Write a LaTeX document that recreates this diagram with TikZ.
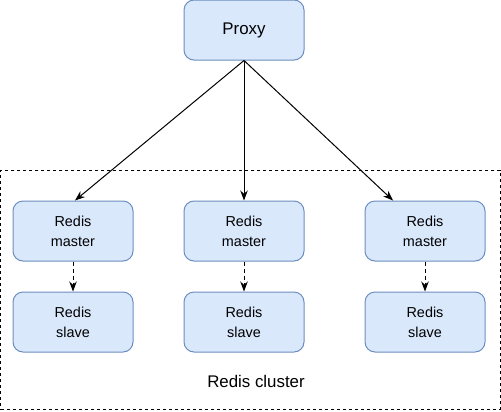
\documentclass[tikz,border=0pt]{standalone}
\usepackage{fontspec}
\setmainfont{Liberation Sans}
\usepackage{xcolor}
\usetikzlibrary{arrows.meta, positioning}
\definecolor{boxfill}{HTML}{DAE8FC}
\definecolor{boxline}{HTML}{6C8EBF}
\tikzset{
    proxybox/.style={rectangle, rounded corners=0.2cm, draw=boxline, fill=boxfill, line width=0.02cm, minimum width=2.4cm, minimum height=1.2cm, font=\fontsize{9.6}{11}\selectfont},
    redisbox/.style={rectangle, rounded corners=0.2cm, draw=boxline, fill=boxfill, line width=0.02cm, minimum width=2.4cm, minimum height=1.2cm, align=center, font=\fontsize{8.2}{11.3}\selectfont},
    clusterbox/.style={rectangle, draw, dash pattern=on 0.06cm off 0.06cm, line width=0.02cm, minimum width=9.98cm, minimum height=4.78cm},
    arrow/.style={-{Stealth[length=0.2cm, width=0.15cm]}, line width=0.02cm},
    dasharrow/.style={arrow, dash pattern=on 0.08cm off 0.06cm}
}
\begin{document}
\begin{tikzpicture}
            \useasboundingbox (0,0) rectangle (10.02,-8.22);
            \node (cluster) [clusterbox] at (5.01,-5.79) {};
            \node (clusterlabel) at (5.12,-7.62) [font=\fontsize{9.6}{11}\selectfont] {Redis cluster};
            \node (proxy) [proxybox] at (4.88,-0.6) {Proxy};
            \node (master2) [redisbox, below=2.8cm of proxy] {Redis\\master};
            \node (master1) [redisbox, left=1cm of master2] {Redis\\master};
            \node (master3) [redisbox, right=1.2cm of master2] {Redis\\master};
            \node (slave1) [redisbox, below=0.6cm of master1] {Redis\\slave};
            \node (slave2) [redisbox, below=0.6cm of master2] {Redis\\slave};
            \node (slave3) [redisbox, below=0.6cm of master3] {Redis\\slave};
            
            \draw[arrow] (proxy.south) -- ([xshift=0.04cm]master1.north);
            \draw[arrow] (proxy.south) -- (master2.north);
            \draw[arrow] (proxy.south) -- ([xshift=-0.64cm]master3.north);
            \draw[dasharrow] (master1) -- (slave1);
            \draw[dasharrow] (master2) -- (slave2);
            \draw[dasharrow] (master3) -- (slave3);
        \end{tikzpicture}
\end{document}
